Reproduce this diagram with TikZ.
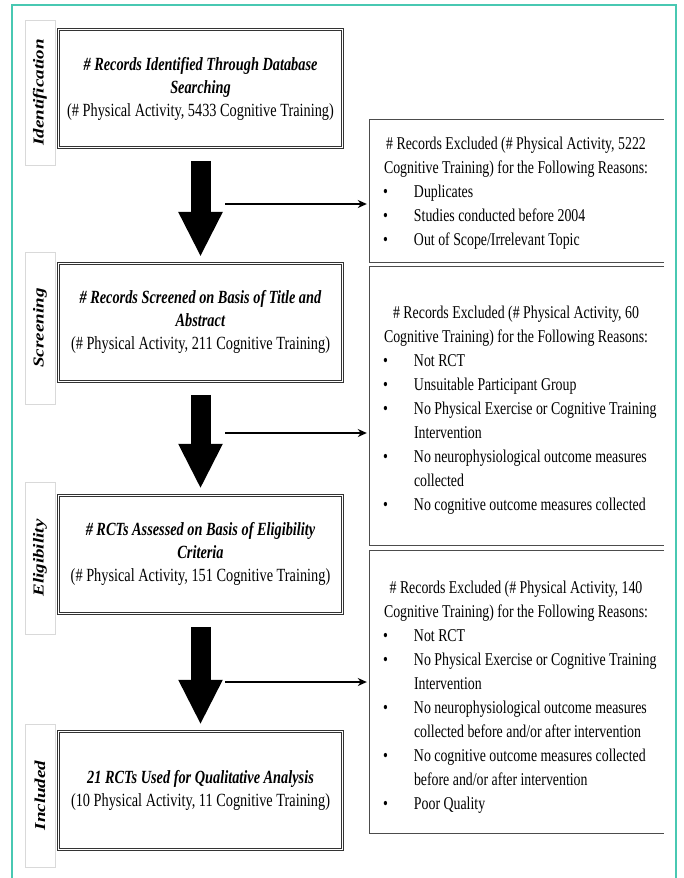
\documentclass[tikz,border=0pt]{standalone}
\usepackage{fontspec}
\usepackage{graphicx}
\setmainfont{Liberation Serif}[FakeStretch=0.77]
\newfontfamily\stagefont{Liberation Serif}
\usetikzlibrary{positioning,arrows.meta}
\definecolor{framegreen}{RGB}{72,200,178}
\newcommand{\reasonhead}[1]{\spaceskip=0pt\xspaceskip=0pt\noindent\makebox[272pt][c]{#1}\par}
\newcommand{\reason}[1]{\par\spaceskip=0pt\xspaceskip=0pt\noindent\hangindent=34pt\hangafter=1\makebox[34pt][l]{\hspace{3pt}\textbullet}#1}

\begin{document}
\begin{tikzpicture}[x=1pt,y=-1pt,
    font=\fontsize{18}{23}\selectfont,
    mainbox/.style={draw=black!80,double=white,double distance=1.4pt,line width=0.9pt,
      minimum width=284pt,minimum height=118pt,align=center,inner sep=0pt,
      font=\fontsize{18.6}{23}\selectfont},
    stagebox/.style={draw=black!15,line width=0.6pt,rotate=90,minimum height=30pt,inner sep=0pt,
      font=\stagefont\fontsize{19}{21}\selectfont\bfseries\itshape},
    exframe/.style={minimum width=294pt,inner sep=0pt},
    exline/.style={draw=black!70,line width=1.1pt},
    extext/.style={text width=290pt,align=left,inner sep=0pt,anchor=west,
      font=\fontsize{18}{24}\selectfont},
    bigarrow/.style={line width=20pt,-{Triangle[width=41pt,length=45pt]},shorten <=13pt,shorten >=6pt},
    exarrow/.style={line width=1.4pt,-{Stealth[length=9pt,width=8pt]},shorten >=3pt}]

\useasboundingbox (0,0) rectangle (683,878);
\draw[framegreen,line width=1.5pt] (12,878) -- (12,5) -- (676,5) -- (676,878);

\node[mainbox] (ident) at (200.5,88.5) {\textbf{\textit{\# Records Identified Through Database}}\\
  \textbf{\textit{Searching}}\\(\# Physical Activity, 5433 Cognitive Training)};
\node[mainbox,below=115pt of ident] (screen) {\textbf{\textit{\# Records Screened on Basis of Title and}}\\
  \textbf{\textit{Abstract}}\\(\# Physical Activity, 211 Cognitive Training)};
\node[mainbox,below=113pt of screen] (elig) {\textbf{\textit{\# RCTs Assessed on Basis of Eligibility}}\\
  \textbf{\textit{Criteria}}\\(\# Physical Activity, 151 Cognitive Training)};
\node[mainbox,below=117pt of elig] (incl) {\textbf{\textit{21 RCTs Used for Qualitative Analysis}}\\
  (10 Physical Activity, 11 Cognitive Training)};

\node[stagebox,minimum width=145pt] (lident) at (40,92.5) {\scalebox{1}[0.8]{Identification}};
\node[stagebox,minimum width=152pt] (lscreen) at (40,328) {\scalebox{1}[0.8]{Screening}};
\node[stagebox,minimum width=152pt] (lelig) at (40,558) {\scalebox{1}[0.8]{Eligibility}};
\node[stagebox,minimum width=143pt] (lincl) at (40,795.5) {\scalebox{1}[0.8]{Included}};

\node[exframe,minimum height=142pt] (excl1) at (517,191) {};
\node[exframe,minimum height=278pt] (excl2) at (517,406) {};
\node[exframe,minimum height=282pt] (excl3) at (517,692) {};
\foreach \b in {excl1,excl2,excl3}
  \draw[exline] (\b.north east) -- (\b.north west) -- (\b.south west) -- (\b.south east);

\node[extext] (excl1txt) at ([xshift=10pt,yshift=-2pt]excl1.west) {%
  \reasonhead{\# Records Excluded (\# Physical Activity, 5222}
  \reasonhead{Cognitive Training) for the Following Reasons:}
  \reason{Duplicates}
  \reason{Studies conducted before 2004}
  \reason{Out of Scope/Irrelevant Topic}};
\node[extext] (excl2txt) at ([xshift=10pt,yshift=-4pt]excl2.west) {%
  \reasonhead{\# Records Excluded (\# Physical Activity, 60}
  \reasonhead{Cognitive Training) for the Following Reasons:}
  \reason{Not RCT}
  \reason{Unsuitable Participant Group}
  \reason{No Physical Exercise or Cognitive Training\newline Intervention}
  \reason{No neurophysiological outcome measures\newline collected}
  \reason{No cognitive outcome measures collected}};
\node[extext] (excl3txt) at ([xshift=10pt,yshift=-5pt]excl3.west) {%
  \reasonhead{\# Records Excluded (\# Physical Activity, 140}
  \reasonhead{Cognitive Training) for the Following Reasons:}
  \reason{Not RCT}
  \reason{No Physical Exercise or Cognitive Training\newline Intervention}
  \reason{No neurophysiological outcome measures\newline collected before and/or after intervention}
  \reason{No cognitive outcome measures collected\newline before and/or after intervention}
  \reason{Poor Quality}};

\draw[bigarrow] (ident) -- (screen);
\draw[bigarrow] (screen) -- (elig);
\draw[bigarrow] (elig) -- (incl);

\coordinate (split1) at (225,204);
\coordinate (split2) at (225,433);
\coordinate (split3) at (225,682);
\draw[exarrow] (split1) -- (split1 -| excl1.west);
\draw[exarrow] (split2) -- (split2 -| excl2.west);
\draw[exarrow] (split3) -- (split3 -| excl3.west);
\end{tikzpicture}
\end{document}
